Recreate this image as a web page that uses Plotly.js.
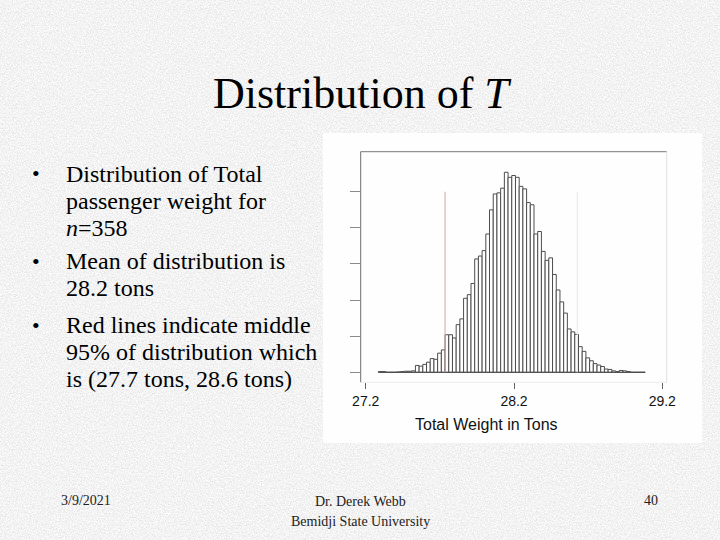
<!DOCTYPE html>
<html><head><meta charset="utf-8">
<script src="https://cdn.plot.ly/plotly-3.0.1.min.js"></script>
<style>
html,body{margin:0;padding:0;}
body{background-color:#e6e6e6;
background-image:url("data:image/svg+xml;utf8,<svg xmlns='http://www.w3.org/2000/svg' width='720' height='540'><filter id='n' x='0' y='0' width='100%25' height='100%25'><feTurbulence type='fractalNoise' baseFrequency='0.75' numOctaves='3' seed='7'/><feColorMatrix type='matrix' values='0.45 0 0 0 0.67  0.45 0 0 0 0.67  0.45 0 0 0 0.67  0 0 0 0 1'/></filter><rect width='720' height='540' filter='url(%23n)'/></svg>");}
#chart{width:720px;height:540px;}
</style>
</head><body><div id="chart"></div><script>
// ---- data ----
const binStart = 27.285;          // left edge of first bin (tons)
const binWidth = 0.025;           // bin width (tons)
const counts = [
  2, 2, 0, 0, 0, 1, 2, 3, 3, 4,
  19, 17, 22, 28, 38, 36, 53, 62, 104, 104,
  95, 132, 148, 205, 215, 246, 314, 322, 337, 383,
  450, 494, 497, 510, 554, 540, 545, 540, 515, 508,
  470, 464, 383, 390, 335, 310, 317, 271, 228, 195,
  164, 120, 112, 105, 71, 58, 40, 32, 24, 20,
  16, 9, 8, 4, 2, 5, 4, 2, 0, 0,
  0, 0
];
const middle95 = [27.735, 28.627]; // red lines (tons)
const xTickVals = [27.2, 28.2, 29.2];
const xTickText = ['27.2', '28.2', '29.2'];
const yTickVals = [0, 100, 200, 300, 400, 500];
const xTitle = 'Total Weight in Tons';
const slideTitle = 'Distribution of <i>T</i>';
const bulletText = [
  ['Distribution of Total', 'passenger weight for', '<i>n</i>=358'],
  ['Mean of distribution is', '28.2 tons'],
  ['Red lines indicate middle', '95% of distribution which', 'is (27.7 tons, 28.6 tons)']
];
const footerDate = '3/9/2021';
const footerAuthor = ['Dr. Derek Webb', 'Bemidji State University'];
const footerPage = '40';

// ---- layout helpers (pixel -> paper, margins are zero) ----
const W = 720, H = 540;
const px = x => x / W;
const py = y => 1 - y / H;
const serif = 'Liberation Serif, Times New Roman, serif';
const sans = 'Liberation Sans, Arial, sans-serif';

const traces = [
  {
    type: 'bar',
    x0: binStart + binWidth / 2,
    dx: binWidth,
    y: counts,
    marker: {color: 'white', line: {color: '#4d4d4d', width: 1}},
    hoverinfo: 'skip'
  },
  {
    type: 'scatter', mode: 'lines',
    x: [binStart, binStart + counts.length * binWidth], y: [0, 0],
    line: {color: '#4d4d4d', width: 1}, hoverinfo: 'skip'
  },
  {
    type: 'scatter', mode: 'lines',
    x: [middle95[0], middle95[0]], y: [0, yTickVals[yTickVals.length - 1]],
    line: {color: '#d9a3a3', width: 1}, hoverinfo: 'skip'
  },
  {
    type: 'scatter', mode: 'lines',
    x: [middle95[1], middle95[1]], y: [0, yTickVals[yTickVals.length - 1]],
    line: {color: '#f1e4e4', width: 1}, hoverinfo: 'skip'
  }
];

const annotations = [];
function addText(text, x, y, size, opts) {
  annotations.push(Object.assign({
    text: text, x: px(x), y: py(y), xref: 'paper', yref: 'paper',
    showarrow: false, xanchor: 'left', yanchor: 'middle',
    font: {family: serif, size: size, color: '#000'}
  }, opts || {}));
}
addText(slideTitle, 362, 94, 44, {xanchor: 'center'});

const lineBase = [[182, 209, 236], [269, 296], [333, 360, 387]];
bulletText.forEach((lines, b) => {
  addText('\u2022', 36, lineBase[b][0] - 8, 22, {xanchor: 'center'});
  lines.forEach((t, i) => addText(t, 64, lineBase[b][i] - 8, 24));
});
const footFont = {family: serif, size: 14, color: '#222'};
addText(footerDate, 86, 500, 14, {xanchor: 'center', font: footFont});
addText(footerAuthor[0], 360, 501, 14, {xanchor: 'center', font: footFont});
addText(footerAuthor[1], 360, 521, 14, {xanchor: 'center', font: footFont});
addText(footerPage, 651, 500, 14, {xanchor: 'center', font: footFont});
addText(xTitle, 486, 424, 16, {xanchor: 'center', font: {family: sans, size: 16, color: '#111'}});

const shapes = [
  {type: 'rect', xref: 'paper', yref: 'paper', x0: px(323), x1: px(702), y0: py(443), y1: py(133),
   fillcolor: '#fefefe', line: {width: 0}, layer: 'below'},
  {type: 'line', xref: 'x domain', yref: 'y domain', x0: 0, x1: 0, y0: 0, y1: 1, line: {color: '#6e6e6e', width: 1}},
  {type: 'line', xref: 'x domain', yref: 'y domain', x0: 0, x1: 1, y0: 1, y1: 1, line: {color: '#7a7a7a', width: 1}},
  {type: 'line', xref: 'x domain', yref: 'y domain', x0: 1, x1: 1, y0: 0, y1: 1, line: {color: '#e2e2e2', width: 1}},
  {type: 'line', xref: 'x domain', yref: 'y domain', x0: 0, x1: 1, y0: 0, y1: 0, line: {color: '#ececec', width: 1}}
];

const layout = {
  width: W, height: H,
  margin: {l: 0, r: 0, t: 0, b: 0},
  paper_bgcolor: 'rgba(0,0,0,0)',
  plot_bgcolor: 'rgba(0,0,0,0)',
  showlegend: false,
  bargap: 0,
  xaxis: {
    domain: [px(360.7), px(666.7)],
    range: [27.166, 29.23],
    tickvals: xTickVals, ticktext: xTickText,
    ticks: 'outside', ticklen: 6, tickcolor: '#666', tickwidth: 1,
    tickfont: {family: sans, size: 14, color: '#111'},
    showgrid: false, zeroline: false, showline: false, fixedrange: true
  },
  yaxis: {
    domain: [py(382.3), py(151.7)],
    range: [-27.7, 611],
    tickvals: yTickVals,
    ticks: 'outside', ticklen: 10, tickcolor: '#8a8a8a', tickwidth: 1,
    showticklabels: false,
    showgrid: false, zeroline: false, showline: false, fixedrange: true
  },
  shapes: shapes,
  annotations: annotations
};

Plotly.newPlot('chart', traces, layout, {displayModeBar: false, staticPlot: true});
</script></body></html>
